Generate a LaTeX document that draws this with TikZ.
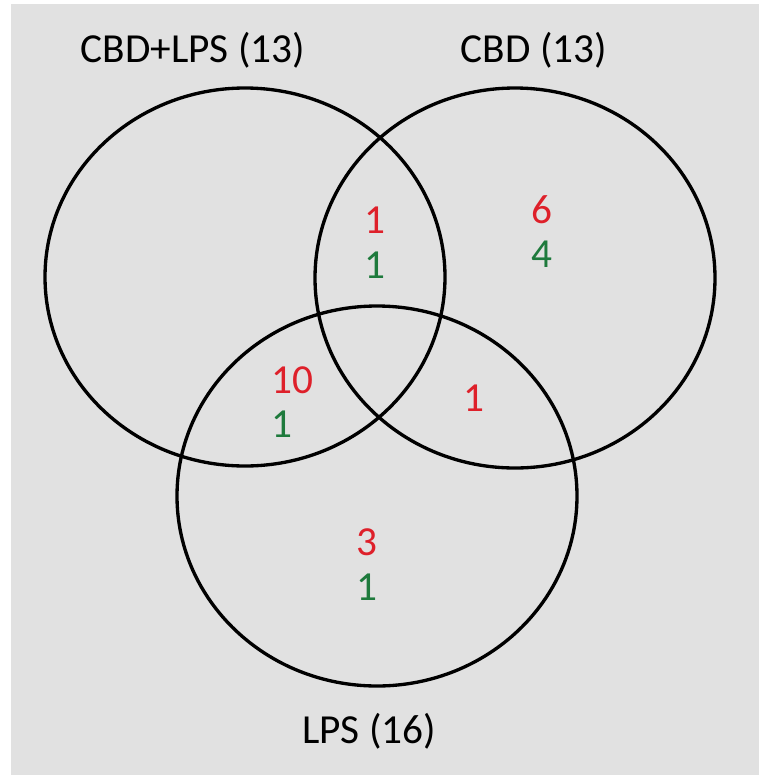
\documentclass[tikz,border=0pt]{standalone}
\usepackage{fontspec}
\setmainfont{Carlito}
\definecolor{bggrey}{RGB}{225,225,225}
\definecolor{upred}{RGB}{222,32,42}
\definecolor{downgreen}{RGB}{30,122,60}
\tikzset{
	set/.style={draw=black, line width=1.9pt},
	title/.style={font=\fontsize{23.5}{28}\selectfont},
	up/.style={text=upred, font=\fontsize{23.5}{28}\selectfont},
	down/.style={text=downgreen, font=\fontsize{23.5}{28}\selectfont}
}

\begin{document}
\begin{tikzpicture}[x=0.02cm, y=-0.02cm]

\useasboundingbox (0,0) rectangle (759,775);
\fill[bggrey] (11,4) rectangle (759,775);

% sets
\draw[set] (245,277) ellipse [x radius=200, y radius=189];
\draw[set] (515,278) ellipse [x radius=200, y radius=190];
\draw[set] (377,496) ellipse [x radius=200, y radius=190];

% set names
\node[title] (tCL) at (193,50) {CBD+LPS (13)};
\node[title] (tC) at (534,50) {CBD (13)};
\node[title] (tL) at (369,731) {LPS (16)};

% counts
\node[up] (u1) at (375,220) {1}; \node[down] (d1) at (375,265) {1};
\node[up] (u2) at (542,210) {6}; \node[down] (d2) at (542,254) {4};
\node[up] (u3) at (292,380) {10}; \node[down] (d3) at (282,424) {1};
\node[up] (u4) at (474,398) {1};
\node[up] (u5) at (367,542) {3}; \node[down] (d5) at (367,587) {1};

\end{tikzpicture}
\end{document}
